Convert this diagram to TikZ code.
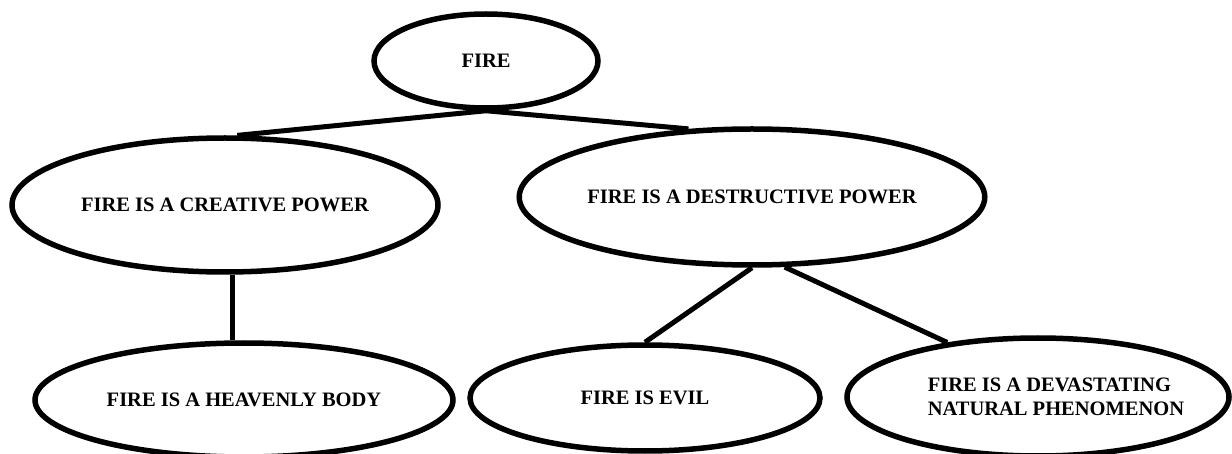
\documentclass[tikz,border=0pt]{standalone}
\usepackage{fontspec}
\setmainfont{Liberation Serif}
\usetikzlibrary{positioning,calc,shapes.geometric}
\tikzset{
  idea/.style={ellipse,draw=black,line width=5.5pt,inner sep=0pt,align=center,
    font=\fontsize{20.5}{24}\selectfont\bfseries},
  link/.style={draw=black,line width=5pt}
}

\begin{document}
\begin{tikzpicture}[x=1pt,y=-1pt]
  \useasboundingbox (0,0) rectangle (1232,454);
  \node[idea,minimum width=224pt,minimum height=94pt] (fire) at (486,61) {FIRE};
  \node[idea,minimum width=426pt,minimum height=134pt] (creative) at (225,205) {FIRE IS A CREATIVE POWER};
  \node[idea,minimum width=420pt,minimum height=136pt] (destructive) at (752,197) {FIRE IS A DESTRUCTIVE POWER};
  \node[idea,minimum width=418pt,minimum height=114pt] (heavenly) at (244,400) {FIRE IS A HEAVENLY BODY};
  \node[idea,minimum width=350pt,minimum height=106pt] (evil) at (645,398) {FIRE IS EVIL};
  \node[idea,minimum width=382pt,minimum height=118pt,align=left,inner xsep=-18pt] (devastating) at (1038,397)
    {\hspace*{36pt}FIRE IS A DEVASTATING\\\hspace*{36pt}NATURAL PHENOMENON};
  % tree links
  \draw[link] (fire.south) -- (creative.80);
  \draw[link] (fire.south) -- (destructive.133);
  \draw[link] (heavenly.101) -- (heavenly.101 |- creative.south);
  \draw[link] (destructive.south) -- (evil.north);
  \draw[link] (destructive.295) -- (devastating.149);
\end{tikzpicture}
\end{document}
